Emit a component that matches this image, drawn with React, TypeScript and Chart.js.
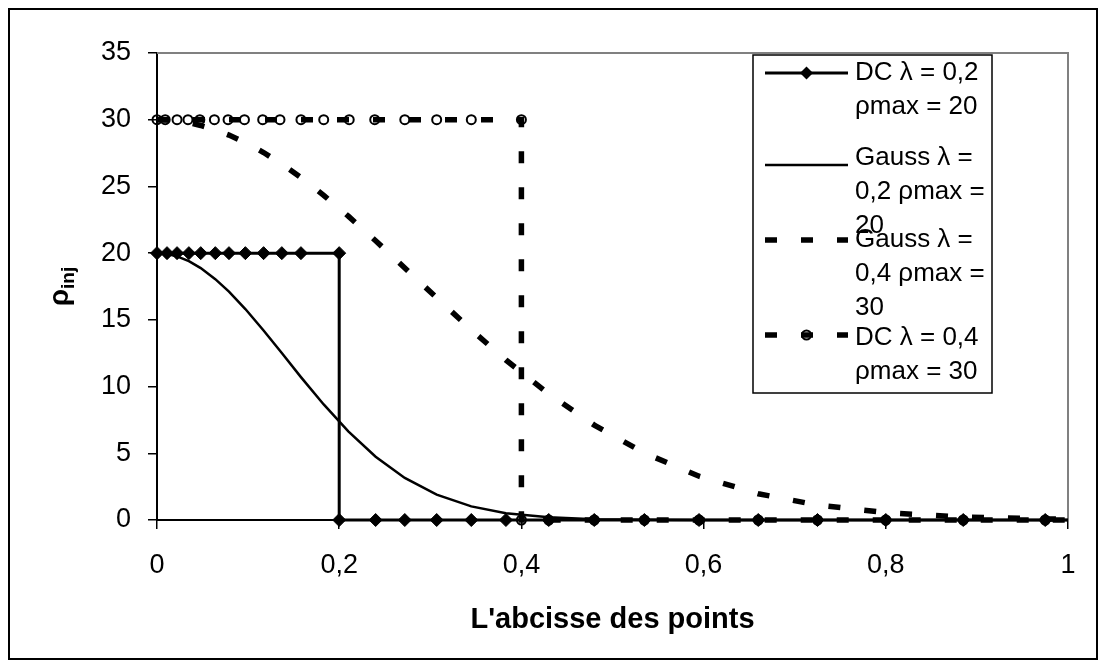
import React, { useEffect, useRef } from "react";
import { Chart, registerables } from "chart.js";

Chart.register(...registerables);

const FONT = "'Liberation Sans', Arial, sans-serif";

// ---- Data ----
const xTickLabels = ["0", "0,2", "0,4", "0,6", "0,8", "1"];

const dc02X = [0, 0.011, 0.022, 0.035, 0.048, 0.064, 0.079, 0.097, 0.117, 0.137, 0.158, 0.2, 0.2, 0.24, 0.272, 0.307, 0.345, 0.383, 0.43, 0.48, 0.535, 0.595, 0.66, 0.725, 0.8, 0.885, 0.975, 1.06];
const dc02Y = [20, 20, 20, 20, 20, 20, 20, 20, 20, 20, 20, 20, 0, 0, 0, 0, 0, 0, 0, 0, 0, 0, 0, 0, 0, 0, 0, 0];

const gaussX = [0, 0.011, 0.022, 0.035, 0.048, 0.064, 0.079, 0.097, 0.117, 0.137, 0.158, 0.183, 0.21, 0.24, 0.272, 0.307, 0.345, 0.383, 0.43, 0.48, 0.535, 0.595, 0.66, 0.725, 0.8, 0.885, 0.975, 1.06];
const gauss02Y = [20, 19.94, 19.76, 19.4, 18.88, 18.05, 17.11, 15.81, 14.2, 12.51, 10.71, 8.66, 6.64, 4.74, 3.15, 1.9, 1.02, 0.51, 0.2, 0.06, 0.02, 0, 0, 0, 0, 0, 0, 0];
const gauss04Y = [30, 29.98, 29.91, 29.77, 29.57, 29.24, 28.85, 28.29, 27.54, 26.68, 25.67, 24.33, 22.77, 20.93, 18.89, 16.65, 14.26, 11.99, 9.45, 7.11, 5.02, 3.28, 1.97, 1.12, 0.55, 0.22, 0.08, 0.03];

const dc04X = [0, 0.009, 0.022, 0.034, 0.047, 0.063, 0.078, 0.096, 0.116, 0.135, 0.158, 0.183, 0.211, 0.239, 0.272, 0.307, 0.345, 0.4, 0.4, 0.43, 0.48, 0.535, 0.595, 0.66, 0.725, 0.8, 0.885, 0.975, 1.06];
const dc04Y = [30, 30, 30, 30, 30, 30, 30, 30, 30, 30, 30, 30, 30, 30, 30, 30, 30, 30, 0, 0, 0, 0, 0, 0, 0, 0, 0, 0, 0];

const seriesNames = [
  ["DC λ = 0,2", "ρmax = 20"],
  ["Gauss λ =", "0,2 ρmax =", "20"],
  ["Gauss λ =", "0,4 ρmax =", "30"],
  ["DC λ = 0,4", "ρmax = 30"],
];
const xAxisTitle = "L'abcisse des points";
const yAxisTitleMain = "ρ";
const yAxisTitleSub = "inj";

const toPoints = (xs: number[], ys: number[]) => xs.map((x, i) => ({ x, y: ys[i] }));

const clipBox = { left: 12, top: 12, right: 0, bottom: 12 };

const framePlugin = {
  id: "frame",
  beforeDraw(chart: any) {
    const { ctx, width, height } = chart;
    ctx.save();
    ctx.fillStyle = "#fff";
    ctx.fillRect(0, 0, width, height);
    ctx.strokeStyle = "#000";
    ctx.lineWidth = 2;
    ctx.strokeRect(1, 1, width - 2, height - 2);
    ctx.restore();
  },
  beforeDatasetsDraw(chart: any) {
    const { ctx, chartArea } = chart;
    ctx.save();
    ctx.strokeStyle = "#808080";
    ctx.lineWidth = 2;
    ctx.beginPath();
    ctx.moveTo(chartArea.left, chartArea.top);
    ctx.lineTo(chartArea.right, chartArea.top);
    ctx.lineTo(chartArea.right, chartArea.bottom);
    ctx.stroke();
    ctx.restore();
  },
  afterDatasetsDraw(chart: any) {
    const { ctx, chartArea } = chart;
    ctx.save();
    // Legend box
    const bx = 745, by = 47, bw = 239, bh = 338;
    ctx.fillStyle = "#fff";
    ctx.fillRect(bx, by, bw, bh);
    ctx.strokeStyle = "#000";
    ctx.lineWidth = 1.5;
    ctx.strokeRect(bx, by, bw, bh);

    const firstLineY = [65, 150, 232, 330];
    const sampleY = [65, 157, 232, 327];
    const lineStep = 34;
    const sx0 = 757, sx1 = 840, tx = 847;
    chart.data.datasets.forEach((ds: any, i: number) => {
      const y = sampleY[i];
      ctx.save();
      ctx.strokeStyle = ds.borderColor;
      ctx.lineWidth = ds.borderWidth;
      ctx.lineCap = "butt";
      ctx.setLineDash(ds.borderDash || []);
      ctx.beginPath();
      ctx.moveTo(sx0, y);
      ctx.lineTo(sx1, y);
      ctx.stroke();
      ctx.setLineDash([]);
      const mx = (sx0 + sx1) / 2;
      if (ds.pointRadius > 0) {
        ctx.beginPath();
        if (ds.pointStyle === "rectRot") {
          const r = ds.pointRadius;
          ctx.moveTo(mx, y - r);
          ctx.lineTo(mx + r, y);
          ctx.lineTo(mx, y + r);
          ctx.lineTo(mx - r, y);
          ctx.closePath();
          ctx.fillStyle = ds.pointBackgroundColor;
          ctx.fill();
        } else {
          ctx.arc(mx, y, ds.pointRadius, 0, Math.PI * 2);
          ctx.lineWidth = ds.pointBorderWidth;
          ctx.strokeStyle = ds.pointBorderColor;
          ctx.stroke();
        }
      }
      ctx.restore();
      ctx.fillStyle = "#000";
      ctx.font = `26px ${FONT}`;
      ctx.textBaseline = "middle";
      ctx.textAlign = "left";
      seriesNames[i].forEach((line, j) => {
        ctx.fillText(line, tx, firstLineY[i] + j * lineStep);
      });
    });

    // X axis title
    ctx.fillStyle = "#000";
    ctx.font = `bold 29px ${FONT}`;
    ctx.textAlign = "center";
    ctx.textBaseline = "middle";
    ctx.fillText(xAxisTitle, (chartArea.left + chartArea.right) / 2, 612);

    // Y axis title with subscript
    const cy = (chartArea.top + chartArea.bottom) / 2;
    ctx.translate(52, cy);
    ctx.rotate(-Math.PI / 2);
    ctx.textAlign = "left";
    ctx.textBaseline = "alphabetic";
    ctx.font = `bold 28px ${FONT}`;
    const w1 = ctx.measureText(yAxisTitleMain).width;
    ctx.font = `bold 19px ${FONT}`;
    const w2 = ctx.measureText(yAxisTitleSub).width;
    const total = w1 + w2;
    ctx.font = `bold 28px ${FONT}`;
    ctx.fillText(yAxisTitleMain, -total / 2, 8);
    ctx.font = `bold 19px ${FONT}`;
    ctx.fillText(yAxisTitleSub, -total / 2 + w1, 14);
    ctx.restore();
  },
};

export default function App() {
  const ref = useRef<HTMLCanvasElement | null>(null);
  useEffect(() => {
    if (!ref.current) return;
    const chart = new Chart(ref.current, {
      type: "line",
      data: {
        datasets: [
          {
            label: seriesNames[0].join(" "),
            data: toPoints(dc02X, dc02Y),
            borderColor: "#000",
            borderWidth: 3,
            pointStyle: "rectRot",
            pointRadius: 6.5,
            pointBackgroundColor: "#000",
            pointBorderColor: "#000",
            pointBorderWidth: 1,
            tension: 0,
            order: 3,
            clip: clipBox,
          } as any,
          {
            label: seriesNames[1].join(" "),
            data: toPoints(gaussX, gauss02Y),
            borderColor: "#000",
            borderWidth: 2.5,
            pointRadius: 0,
            tension: 0,
            order: 2,
            clip: clipBox,
          } as any,
          {
            label: seriesNames[2].join(" "),
            data: toPoints(gaussX, gauss04Y),
            borderColor: "#000",
            borderWidth: 5.5,
            borderDash: [12, 24],
            borderCapStyle: "butt",
            pointRadius: 0,
            tension: 0,
            order: 1,
            clip: clipBox,
          } as any,
          {
            label: seriesNames[3].join(" "),
            data: toPoints(dc04X, dc04Y),
            borderColor: "#000",
            borderWidth: 5.5,
            borderDash: [12, 24],
            borderCapStyle: "butt",
            pointStyle: "circle",
            pointRadius: 4.5,
            pointBorderWidth: 2,
            pointBackgroundColor: "rgba(0,0,0,0)",
            pointBorderColor: "#000",
            tension: 0,
            order: 0,
            clip: clipBox,
          } as any,
        ],
      },
      options: {
        responsive: false,
        animation: false,
        layout: { padding: { left: 0, right: 30, top: 45, bottom: 0 } },
        plugins: {
          legend: { display: false },
          tooltip: { enabled: false },
          title: { display: false },
        },
        scales: {
          x: {
            type: "linear",
            min: 0,
            max: 1,
            afterFit: (s: any) => { s.height = 140; },
            afterBuildTicks: (s: any) => {
              s.ticks = xTickLabels.map((_, i) => ({ value: i * 0.2 }));
            },
            ticks: {
              autoSkip: false,
              maxRotation: 0,
              padding: 20,
              color: "#000",
              font: { family: FONT, size: 27 },
              callback: (_v: any, i: number) => xTickLabels[i],
            },
            grid: { drawOnChartArea: false, drawTicks: true, tickLength: 9, color: "#000", lineWidth: 1.5 },
            border: { display: true, color: "#000", width: 2 },
          },
          y: {
            type: "linear",
            min: 0,
            max: 35,
            afterFit: (s: any) => { s.width = 149; },
            ticks: {
              stepSize: 5,
              padding: 17,
              color: "#000",
              font: { family: FONT, size: 27 },
            },
            grid: { drawOnChartArea: false, drawTicks: true, tickLength: 9, color: "#000", lineWidth: 1.5 },
            border: { display: true, color: "#000", width: 2 },
          },
        },
      },
      plugins: [framePlugin],
    } as any);
    return () => chart.destroy();
  }, []);
  return <canvas ref={ref} width={1090} height={652} style={{ display: "block" }} />;
}
